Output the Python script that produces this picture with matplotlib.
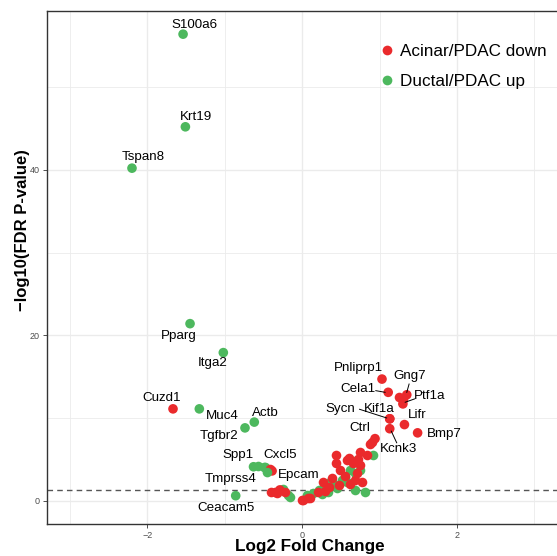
import numpy as np
import matplotlib
matplotlib.use("Agg")
import matplotlib.pyplot as plt
from matplotlib.lines import Line2D

plt.rcParams["font.family"] = ["Liberation Sans", "DejaVu Sans"]

RED = "#EA2A2C"
GREEN = "#4DB85E"

# labelled genes: name, log2FC, -log10(FDR), group
lab_genes = ["S100a6", "Krt19", "Tspan8", "Pparg", "Itga2", "Cuzd1", "Muc4",
             "Actb", "Tgfbr2", "Spp1", "Cxcl5", "Tmprss4", "Ceacam5", "Epcam",
             "Pnliprp1", "Cela1", "Gng7", "Ptf1a", "Sycn", "Kif1a", "Lifr",
             "Ctrl", "Bmp7", "Kcnk3"]
lab_fc = [-1.54, -1.51, -2.20, -1.45, -1.02, -1.67, -1.33,
          -0.62, -0.74, -0.63, -0.39, -0.45, -0.86, -0.29,
          1.03, 1.11, 1.35, 1.30, 1.13, 1.13, 1.32,
          0.94, 1.49, 1.13]
lab_p = [56.4, 45.2, 40.2, 21.4, 17.9, 11.1, 11.1,
         9.5, 8.8, 4.1, 3.6, 3.4, 0.6, 1.3,
         14.7, 13.1, 12.8, 11.7, 9.9, 9.9, 9.2,
         7.5, 8.2, 8.7]
lab_group = ["up", "up", "up", "up", "up", "down", "up",
             "up", "up", "up", "down", "up", "up", "down",
             "down", "down", "down", "down", "down", "down", "down",
             "down", "down", "down"]

# unlabelled genes
red_fc = [1.25, 1.30, 0.90, 0.88, 0.75, 0.84, 0.44, 0.44, 0.49, 0.60,
          0.66, 0.74, 0.71, 0.77, 0.68, 0.38, 0.27, 0.34, 0.01, 0.10,
          -0.35, -0.40, -0.33, -0.22, 0.08, 0.00, 0.55, 0.62, 0.30, 0.20,
          -0.42, 0.47, 0.58, 0.72]
red_p = [12.5, 12.3, 7.1, 6.9, 5.9, 5.5, 5.5, 4.6, 3.7, 5.2,
         4.5, 4.3, 3.3, 2.3, 2.5, 2.7, 2.3, 1.7, 0.1, 0.3,
         1.1, 1.1, 0.9, 1.1, 0.3, 0.1, 3.0, 2.0, 1.2, 1.0,
         3.8, 1.9, 4.9, 5.0]
green_fc = [0.92, 0.75, 0.68, 0.62, 0.55, 0.51, 0.36, 0.29, 0.21, 0.14,
            0.06, 0.68, 0.81, -0.18, -0.27, -0.48, -0.57, -0.50, 0.40,
            0.45, -0.25, -0.16, 0.58, 0.33, 0.25, 0.66]
green_p = [5.5, 3.7, 3.3, 3.7, 2.9, 2.5, 2.3, 1.7, 1.3, 0.9,
           0.7, 1.3, 1.1, 0.7, 1.3, 4.1, 4.2, 4.1, 2.1,
           1.5, 1.4, 0.5, 2.2, 1.0, 0.8, 4.8]

fdr_cut = -np.log10(0.05)

# label placement (ggrepel-like), in data units
lab_pos = {
    "S100a6": (-1.39, 57.5), "Krt19": (-1.37, 46.4), "Tspan8": (-2.06, 41.5),
    "Pparg": (-1.59, 19.9), "Itga2": (-1.16, 16.6), "Cuzd1": (-1.82, 12.4),
    "Muc4": (-1.04, 10.2), "Actb": (-0.48, 10.6), "Tgfbr2": (-1.08, 7.8),
    "Spp1": (-0.83, 5.5), "Cxcl5": (-0.29, 5.5), "Tmprss4": (-0.93, 2.6),
    "Ceacam5": (-0.98, -0.85), "Epcam": (-0.04, 3.1), "Pnliprp1": (0.72, 16.0),
    "Gng7": (1.39, 15.1), "Cela1": (0.72, 13.5), "Ptf1a": (1.64, 12.7),
    "Sycn": (0.49, 11.05), "Kif1a": (0.995, 11.05), "Lifr": (1.49, 10.4),
    "Ctrl": (0.74, 8.75), "Bmp7": (1.84, 8.1), "Kcnk3": (1.25, 6.25),
}
segments = {
    "Cela1": ((0.95, 13.3), (1.07, 13.1)),
    "Gng7": ((1.38, 14.1), (1.35, 13.1)),
    "Ptf1a": ((1.45, 12.3), (1.33, 11.9)),
    "Sycn": ((0.74, 11.05), (1.09, 10.0)),
    "Kcnk3": ((1.22, 7.0), (1.15, 8.4)),
}

fig = plt.figure(figsize=(5.57, 5.56), dpi=100)
ax = fig.add_axes([47 / 557, 32 / 556, 510.7 / 557, 513 / 556])

ax.set_xlim(-3.298, 3.30)
ax.set_ylim(-2.82, 59.2)
ax.set_facecolor("white")
ax.set_xticks([-2, 0, 2])
ax.set_yticks([0, 20, 40])
ax.set_xticks([-3, -1, 1, 3], minor=True)
ax.set_yticks([10, 30, 50], minor=True)
ax.set_xticklabels(["\u22122", "0", "2"])
ax.grid(which="major", color="#EBEBEB", lw=1.0, zorder=0)
ax.grid(which="minor", color="#EBEBEB", lw=0.6, zorder=0)
ax.tick_params(which="major", length=3, width=0.6, color="#333333",
               labelsize=6.5, labelcolor="#4D4D4D", pad=2)
ax.tick_params(which="minor", length=0)
for s in ax.spines.values():
    s.set_color("#333333")
    s.set_linewidth(1.0)
ax.set_axisbelow(True)

ax.axhline(fdr_cut, color="#555555", lw=1.0, ls=(0, (4, 3)), zorder=1)

kw = dict(s=48, linewidths=0, zorder=3)
ax.scatter(green_fc, green_p, color=GREEN, **kw)
ax.scatter(red_fc, red_p, color=RED, **kw)
lab_colors = [RED if g == "down" else GREEN for g in lab_group]
ax.scatter(lab_fc, lab_p, color=lab_colors, **kw)

for name in lab_genes:
    tx, ty = lab_pos[name]
    ax.text(tx, ty, name, ha="center", va="center", fontsize=9.6,
            color="black", zorder=5)
for name, (a, b) in segments.items():
    ax.plot([a[0], b[0]], [a[1], b[1]], color="black", lw=0.7, zorder=4)

fig.text(309.5 / 557, 1 - 547 / 556, "Log2 Fold Change", fontsize=12.3,
         fontweight="bold", ha="center", va="center")
fig.text(22.5 / 557, 1 - 230 / 556, "\u2212log10(FDR P-value)", fontsize=12,
         fontweight="bold", ha="center", va="center", rotation=90)

handles = [Line2D([], [], ls="", marker="o", ms=7, color=RED, mec="none"),
           Line2D([], [], ls="", marker="o", ms=7, color=GREEN, mec="none")]
fig.legend(handles, ["Acinar/PDAC down", "Ductal/PDAC up"],
           loc="upper left", bbox_to_anchor=(379 / 557, 1 - 44 / 556),
           frameon=False, fontsize=12.3, handlelength=0.9, handletextpad=0.35,
           labelspacing=0.85, borderpad=0, borderaxespad=0)

fig.savefig("out.png", dpi=100)
